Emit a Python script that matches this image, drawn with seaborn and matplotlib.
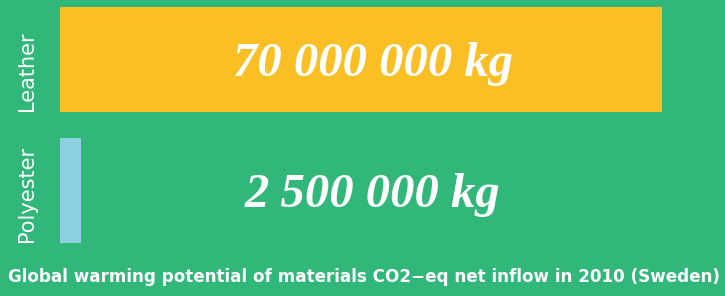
import matplotlib
matplotlib.use("Agg")
import matplotlib.pyplot as plt
import matplotlib.transforms as mtransforms
from matplotlib import font_manager
import seaborn as sns
import pandas as pd

# data
materials = ["Leather", "Polyester"]
co2_kg = [70_000_000, 2_500_000]
value_labels = ["70 000 000 kg", "2 500 000 kg"]
bar_colors = ["#fbbf26", "#8dd1e0"]
caption = "Global warming potential of materials CO2\u2212eq net inflow in 2010 (Sweden)"

BG = "#32b77a"

df = pd.DataFrame({"material": materials, "co2": co2_kg})

sns.set_theme(style="white")
plt.rcParams["font.family"] = ["DejaVu Sans"]

installed = {f.name for f in font_manager.fontManager.ttflist}
cap_family = "Liberation Sans Narrow" if "Liberation Sans Narrow" in installed else "DejaVu Sans"

W, H = 725, 296
fig = plt.figure(figsize=(W / 100, H / 100), dpi=100)
fig.patch.set_facecolor(BG)

# axes placed in pixel units
left, right, top, bottom = 59.5, 725, 0.5, 256
ax = fig.add_axes([left / W, 1 - bottom / H, (right - left) / W, (bottom - top) / H])
ax.set_facecolor(BG)

sns.barplot(
    data=df,
    x="co2",
    y="material",
    hue="material",
    palette=bar_colors,
    width=0.8,
    legend=False,
    ax=ax,
    saturation=1,
    linewidth=0,
    edgecolor="none",
)

ax.set_xlim(0, 70_000_000 * (right - left) / (662 - left))
ax.set_ylim(1.5, -0.45)
for s in ax.spines.values():
    s.set_visible(False)
ax.set_xticks([])
ax.set_yticks([])
ax.set_xlabel("")
ax.set_ylabel("")

trans = mtransforms.blended_transform_factory(ax.transAxes, ax.transData)

# category labels, rotated on the left, aligned to the bar bottoms
for i, name in enumerate(materials):
    ax.text(-32.5 / (right - left), i + 0.39, name, rotation=90,
            ha="center", va="bottom", color="white", fontsize=15,
            transform=trans)

# big value labels
for i, lab in enumerate(value_labels):
    ax.text(0.471, i, lab, ha="center", va="center_baseline",
            color="white", fontsize=35, fontweight="bold", fontstyle="italic",
            family=["Liberation Serif", "DejaVu Serif"],
            transform=trans)

# caption, sized to the reference width
cap = fig.text(364 / W, 1 - 277 / H, caption, ha="center", va="center",
               color="white", fontsize=14, fontweight="bold", family=cap_family)
fig.canvas.draw()
w = cap.get_window_extent().width
cap.set_fontsize(14 * 712 / w)

fig.savefig("out.png", dpi=100, facecolor=BG)
